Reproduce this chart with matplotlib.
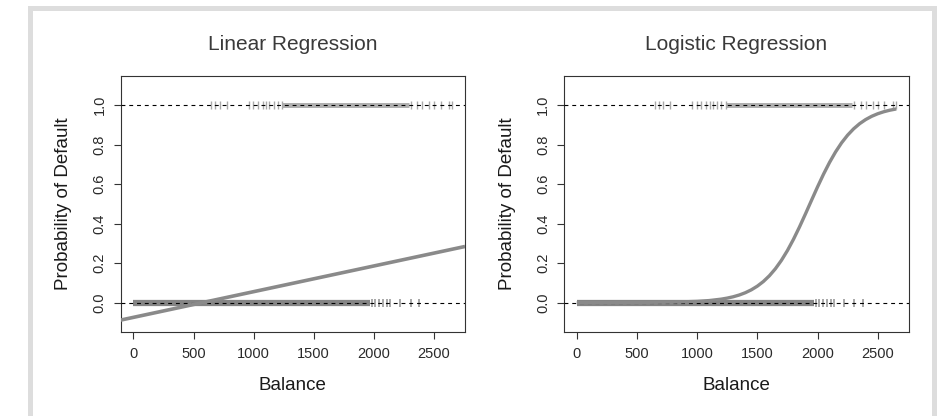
import matplotlib
matplotlib.use("Agg")
import matplotlib.pyplot as plt
from matplotlib.patches import Rectangle

plt.rcParams['font.family'] = ['Liberation Sans', 'DejaVu Sans']

# x-axis and y-axis setup
xticks = [0, 500, 1000, 1500, 2000, 2500]
yticks = [0.0, 0.2, 0.4, 0.6, 0.8, 1.0]
titles = ["Linear Regression", "Logistic Regression"]

# rug of observed balances (dense part drawn as a band, sparse part as ticks)
no_default_dense = (0, 1967)
no_default_sparse = [1986, 2014, 2042, 2078, 2111, 2139, 2222, 2306, 2375]
default_dense = (1240, 2290)
default_sparse = [648, 681, 717, 778, 959, 995, 1033, 1075, 1103, 1131, 1167,
                  1200, 1237, 2306, 2361, 2403, 2458, 2500, 2556, 2625, 2654]

# fitted linear regression line (endpoints at plot edges)
lin_x = [-106, 2760]
lin_y = [-0.089, 0.284]

# fitted logistic regression curve
log_x = [0, 500, 800, 1000, 1100, 1200, 1250, 1300, 1350, 1400, 1450, 1500,
         1550, 1600, 1650, 1700, 1750, 1800, 1850, 1900, 1950, 2000, 2050,
         2100, 2150, 2200, 2250, 2300, 2350, 2400, 2450, 2500, 2550, 2600, 2654]
log_y = [0.0000, 0.0004, 0.0019, 0.0058, 0.0099, 0.0171, 0.0224, 0.0292,
         0.0381, 0.0496, 0.0643, 0.0830, 0.1064, 0.1355, 0.1711, 0.2137,
         0.2634, 0.3201, 0.3827, 0.4494, 0.5179, 0.5858, 0.6506, 0.7102,
         0.7634, 0.8095, 0.8483, 0.8804, 0.9065, 0.9273, 0.9438, 0.9567,
         0.9668, 0.9746, 0.9810]

fig = plt.figure(figsize=(9.46, 4.16), dpi=100)
fig.patch.set_facecolor('white')

# light grey frame around the whole figure
fig.patches.append(Rectangle((0.0322, -0.1), 0.9546, 1.0808, transform=fig.transFigure,
                             fill=False, edgecolor='#dddddd', linewidth=3.6, zorder=0))

ax1 = fig.add_axes([0.1276, 0.2026, 0.364, 0.6147])
ax2 = fig.add_axes([0.5962, 0.2026, 0.3647, 0.6147])

grey = '#8a8a8a'

for ax, title in zip([ax1, ax2], titles):
    # rug marks
    ax.hlines(0, no_default_dense[0], no_default_dense[1], color='#858585',
              linewidth=4.5, zorder=2)
    ax.plot(no_default_sparse, [0] * len(no_default_sparse), linestyle='none',
            marker='|', markersize=6, markeredgewidth=1.2, color='#999999', zorder=2)
    ax.hlines(1, default_dense[0], default_dense[1], color='#b0b0b0',
              linewidth=3.6, zorder=2)
    ax.plot(default_sparse, [1] * len(default_sparse), linestyle='none',
            marker='|', markersize=6, markeredgewidth=1.0, color='#aaaaaa', zorder=2)

    ax.axhline(0, color='black', linewidth=0.8, dashes=(3.5, 3.5), zorder=3)
    ax.axhline(1, color='black', linewidth=0.8, dashes=(3.5, 3.5), zorder=3)

    ax.set_xlim(-106, 2760)
    ax.set_ylim(-0.148, 1.148)
    ax.set_xticks(xticks)
    ax.set_yticks(yticks)
    ax.set_yticklabels(["%.1f" % v for v in yticks])
    ax.tick_params(direction='out', length=5, width=0.8, color='#333333',
                   labelsize=10.5, labelcolor='#2a2a2a')
    ax.tick_params(axis='x', pad=6)
    ax.tick_params(axis='y', pad=5)
    for lab in ax.get_yticklabels():
        lab.set_rotation(90)
        lab.set_va('center')
    for sp in ax.spines.values():
        sp.set_color('#333333')
        sp.set_linewidth(0.8)

    ax.set_xlabel("Balance", fontsize=13.5, color='#1a1a1a', va='center')
    ax.xaxis.set_label_coords(0.5, -0.212)
    ax.set_ylabel("Probability of Default", fontsize=13.5, color='#1a1a1a', va='center')
    ax.yaxis.set_label_coords(-0.165, 0.5)
    ax.text(0.5, 1.102, title, transform=ax.transAxes, ha='center', va='baseline',
            fontsize=15, color='#3a3a3a')

ax1.plot(lin_x, lin_y, color=grey, linewidth=2.6, solid_capstyle='butt', zorder=4)
ax2.plot(log_x, log_y, color=grey, linewidth=2.4, solid_capstyle='butt', zorder=4)

fig.savefig("out.png", dpi=100)
